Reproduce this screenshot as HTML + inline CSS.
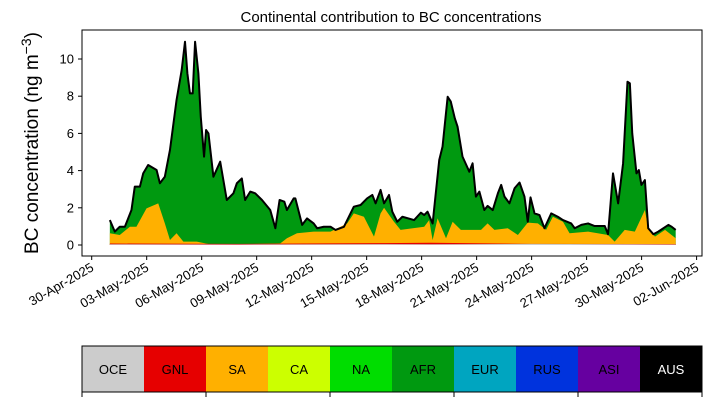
<!DOCTYPE html>
<html><head><meta charset="utf-8"><style>
body{margin:0;background:#fff}
svg text{font-family:"Liberation Sans","DejaVu Sans",sans-serif}
</style></head><body>
<svg id="c" width="711" height="402" xmlns="http://www.w3.org/2000/svg"></svg>
<script>
// data (days since 30-Apr-2025, BC ng m^-3)
const totalDays=[0.99,1.26,1.53,1.81,2.17,2.35,2.63,2.81,3.08,3.54,3.72,3.99,4.27,4.63,4.91,5.09,5.22,5.36,5.51,5.64,5.82,5.95,6.13,6.24,6.37,6.64,7.01,7.37,7.73,7.92,8.19,8.37,8.65,8.92,9.29,9.74,10.02,10.25,10.51,10.65,11.02,11.11,11.48,11.75,12.11,12.30,12.66,13.03,13.30,13.76,14.30,14.67,15.03,15.31,15.49,15.76,15.95,16.22,16.40,16.67,16.95,17.59,17.96,18.14,18.32,18.60,18.96,19.14,19.42,19.59,19.81,19.96,20.23,20.60,20.78,20.96,21.15,21.42,21.60,21.88,22.16,22.34,22.52,22.79,23.07,23.34,23.61,23.79,23.94,24.16,24.43,24.70,25.07,25.43,25.71,26.16,26.35,26.71,27.08,27.44,27.99,28.17,28.44,28.72,28.99,29.23,29.36,29.49,29.72,29.85,29.99,30.18,30.36,30.64,30.91,31.46,31.64,31.86];
const totalVals=[1.34,0.72,0.98,0.98,1.88,3.14,3.14,3.85,4.30,4.03,3.32,3.67,5.11,7.80,9.41,10.93,9.23,8.15,8.15,10.93,9.23,6.90,4.75,6.18,6.0,3.67,4.48,2.42,2.78,3.32,3.58,2.42,2.87,2.78,2.42,1.88,0.90,2.42,2.33,1.88,2.51,2.51,1.08,1.43,1.16,0.90,0.98,0.98,0.81,0.98,2.06,2.15,2.51,2.69,2.24,2.96,2.24,2.69,1.79,1.25,1.52,1.34,1.74,1.61,1.79,1.16,4.57,5.29,7.97,7.71,6.81,6.36,4.75,3.94,4.39,2.60,2.87,1.88,2.10,1.88,2.78,3.23,2.60,2.24,3.05,3.36,2.60,1.25,2.56,1.70,1.61,0.90,1.70,1.52,1.34,1.16,0.90,1.08,1.16,1.02,1.02,0.58,3.85,2.24,4.39,8.78,8.69,6.00,3.85,4.03,3.23,3.49,0.90,0.58,0.72,1.08,0.98,0.81];
const saDays=[0.99,1.53,2.08,2.44,2.99,3.63,3.99,4.27,4.63,5.0,5.73,6.64,10.29,10.65,11.20,12.11,13.03,13.94,14.30,14.85,15.40,15.76,15.95,16.31,16.49,16.85,18.14,18.41,18.60,18.87,19.33,19.69,20.14,21.24,21.60,21.97,22.70,23.25,23.79,24.34,24.79,25.16,25.71,26.07,27.08,28.17,28.53,29.08,29.63,30.18,30.36,30.73,31.28,31.86];
const saVals=[0.63,0.54,0.98,0.98,1.97,2.24,1.16,0.27,0.63,0.18,0.18,0.0,0.09,0.36,0.63,0.72,0.72,1.16,1.70,1.52,0.45,1.70,2.0,1.5,1.25,0.81,0.98,1.34,0.27,1.43,0.36,1.25,0.81,0.81,1.16,0.81,0.90,0.54,1.2,1.16,0.81,1.52,1.25,0.63,0.72,0.54,0.18,0.81,0.72,1.88,0.9,0.45,0.81,0.36];
const gnlDays=[0.99,8,16,18.5,24,31.86];
const gnlVals=[0.08,0.06,0.1,0.12,0.06,0.05];
const oceVals=[0.04,0.03,0.05,0.04,0.06,0.03];
const yTicks=[0,2,4,6,8,10];
const xTickLabels=["30-Apr-2025","03-May-2025","06-May-2025","09-May-2025","12-May-2025","15-May-2025","18-May-2025","21-May-2025","24-May-2025","27-May-2025","30-May-2025","02-Jun-2025"];
const regions=["OCE","GNL","SA","CA","NA","AFR","EUR","RUS","ASI","AUS"];
const regionColors=["#cccccc","#e60000","#ffb000","#ccff00","#00dd00","#009910","#00a5c0","#0033dd","#6600a0","#000000"];

const NS="http://www.w3.org/2000/svg",svg=document.getElementById('c');
const L=82,R=702,T=30,B=256;
const X=d=>91.7+d*18.33, Y=v=>245-v*18.6;
function mk(t,a,p){const e=document.createElementNS(NS,t);for(const k in a)e.setAttribute(k,a[k]);(p||svg).appendChild(e);return e;}
function area(days,vals,base,fill,name){
  let d="M"+X(days[0])+","+Y(base);
  days.forEach((t,i)=>d+="L"+X(t)+","+Y(vals[i]+base));
  d+="L"+X(days[days.length-1])+","+Y(base)+"Z";
  const p=mk('path',{d,fill});
  
  
}
area(totalDays,totalVals,0,regionColors[5],'afr-area');
area(saDays,saVals,0,regionColors[2],'sa-area');
area(gnlDays,gnlVals,0,regionColors[1],'gnl-area');
area(gnlDays,oceVals,0,regionColors[0],'oce-area');
let ld="";totalDays.forEach((t,i)=>ld+=(i?"L":"M")+X(t)+","+Y(totalVals[i]));
const tl=mk('path',{d:ld,fill:'none',stroke:'#000',"stroke-width":2,"stroke-linejoin":"round"});


const fr=mk('rect',{x:L,y:T,width:R-L,height:B-T,fill:'none',stroke:'#000',"stroke-width":1});


yTicks.forEach(v=>{
  mk('line',{x1:L-4,x2:L,y1:Y(v),y2:Y(v),stroke:'#000'});
  const t=mk('text',{x:L-8,y:Y(v)+4.5,"text-anchor":"end","font-size":13});t.textContent=v;
  
  
});
xTickLabels.forEach((s,i)=>{
  const x=X(i*3);
  mk('line',{x1:x,x2:x,y1:B,y2:B+4,stroke:'#000'});
  const t=mk('text',{x:x+3,y:B+14,"text-anchor":"end","font-size":13,transform:`rotate(-30 ${x+3} ${B+14})`});t.textContent=s;
  
  
});
const ti=mk('text',{x:391,y:22,"text-anchor":"middle","font-size":15});ti.textContent="Continental contribution to BC concentrations";


const yl=mk('text',{x:38,y:143,"text-anchor":"middle","font-size":19,transform:"rotate(-90 38 143)"});
yl.innerHTML='BC concentration (ng m<tspan dy="-7" font-size="14">−3</tspan><tspan dy="7">)</tspan>';


// legend colorbar
const cw=(R-L)/regions.length;
regions.forEach((r,i)=>{
  const g=mk('rect',{x:L+i*cw,y:346,width:cw,height:46,fill:regionColors[i]});
  
  
  const t=mk('text',{x:L+i*cw+cw/2,y:374,"text-anchor":"middle","font-size":13,fill:i==9?'#fff':'#000'});t.textContent=r;
  
  
});
mk('rect',{x:L,y:346,width:R-L,height:46,fill:'none',stroke:'#000'});
for(let i=0;i<=regions.length;i+=2)mk('line',{x1:L+i*cw,x2:L+i*cw,y1:392,y2:397,stroke:'#000'});
</script>
</body></html>
